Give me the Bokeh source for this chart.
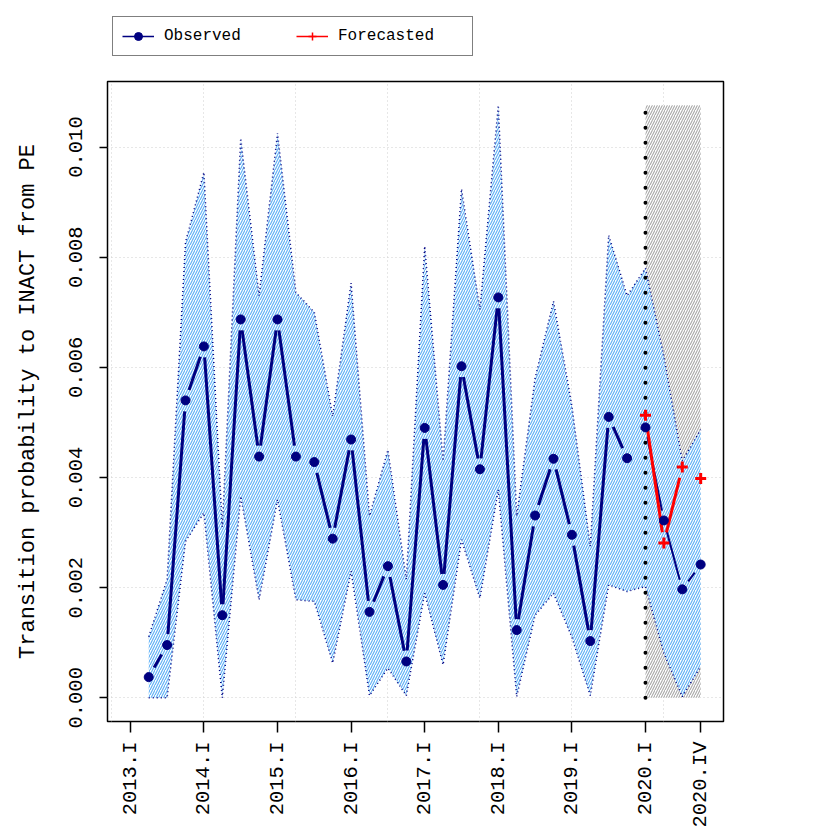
import math
from bokeh.plotting import figure
from bokeh.layouts import column
from bokeh.models import FixedTicker, Legend, LegendItem, Range1d
from bokeh.embed import file_html
from bokeh.resources import INLINE

# ---------------- data ----------------
quarters = [f"{y}.{q}" for y in range(2013, 2021) for q in ("I", "II", "III", "IV")]
obs_quarters = quarters[1:]  # 2013.II .. 2020.IV

observed = [0.000376, 0.000958, 0.00540, 0.00638, 0.00150, 0.00687, 0.00438, 0.00687,
            0.00438, 0.00428, 0.00289, 0.00469, 0.00156, 0.00239, 0.00066, 0.00490,
            0.00205, 0.00602, 0.00415, 0.00727, 0.00123, 0.00331, 0.00434, 0.00296,
            0.00103, 0.00510, 0.00435, 0.00491, 0.00322, 0.00197, 0.00242]
upper = [0.00111, 0.00215, 0.00827, 0.00954, 0.00310, 0.01016, 0.00730, 0.01025,
         0.00736, 0.00700, 0.00511, 0.00753, 0.00330, 0.00450, 0.00215, 0.00820,
         0.00430, 0.00924, 0.00705, 0.01076, 0.00330, 0.00580, 0.00720, 0.00530,
         0.00275, 0.00840, 0.00730, 0.00780, 0.00620, 0.00430, 0.00487]
lower = [0.0, 0.0, 0.00284, 0.00336, 0.0, 0.00366, 0.00178, 0.00360,
         0.00178, 0.00175, 0.00063, 0.00230, 0.00004, 0.00054, 0.00004, 0.00190,
         0.00060, 0.00287, 0.00181, 0.00378, 0.00002, 0.00150, 0.00190, 0.00110,
         0.00004, 0.00205, 0.00193, 0.00202, 0.00081, 0.00002, 0.00057]

fc_quarters = ["2020.I", "2020.II", "2020.III", "2020.IV"]
forecast = [0.00513, 0.00281, 0.00419, 0.00398]

tick_quarters = ["2013.I", "2014.I", "2015.I", "2016.I", "2017.I", "2018.I",
                 "2019.I", "2020.I", "2020.IV"]
y_ticks = [0.0, 0.002, 0.004, 0.006, 0.008, 0.010]
y_tick_labels = ["0.000", "0.002", "0.004", "0.006", "0.008", "0.010"]
split_quarter = "2020.I"

# ---------------- positions ----------------
obs_x = [quarters.index(q) for q in obs_quarters]
fc_x = [quarters.index(q) for q in fc_quarters]
split_x = quarters.index(split_quarter)
tick_x = [quarters.index(q) for q in tick_quarters]
n_hist = obs_quarters.index(split_quarter)  # points before forecast period

FONT = "Liberation Mono"
FW, FH = 616, 640
x0, x1 = -1.24, 32.24
y0, y1 = -0.00043, 0.01119
LEG_H = 60

p = figure(width=830, height=830 - LEG_H, output_backend="svg", toolbar_location=None,
           x_range=Range1d(x0, x1), y_range=Range1d(y0, y1),
           min_border_left=107, min_border_right=107, min_border_top=81 - LEG_H,
           min_border_bottom=109)
p.outline_line_color = "black"
p.outline_line_width = 1.5

# grid
p.xgrid.ticker = FixedTicker(ticks=[-1, 4, 9, 14, 19, 24, 29])
p.ygrid.ticker = FixedTicker(ticks=y_ticks)
for g in (p.xgrid, p.ygrid):
    g.grid_line_color = "#cfcfcf"
    g.grid_line_dash = "1 3"
    g.grid_line_width = 1

# axes
p.xaxis.ticker = FixedTicker(ticks=tick_x)
p.xaxis.major_label_overrides = {x: q for x, q in zip(tick_x, tick_quarters)}
p.xaxis.major_label_orientation = math.pi / 2
p.yaxis.ticker = FixedTicker(ticks=y_ticks)
p.yaxis.major_label_overrides = {v: s for v, s in zip(y_ticks, y_tick_labels)}
p.yaxis.major_label_orientation = "vertical"
p.yaxis.axis_label = "Transition probability to INACT from PE"
for ax in (p.xaxis, p.yaxis):
    ax.axis_line_color = None
    ax.minor_tick_line_color = None
    ax.major_tick_in = 0
    ax.major_tick_line_width = 1.5
    ax.major_tick_line_color = "black"
    ax.major_label_text_font = FONT
    ax.major_label_text_font_size = "20.5px"
    ax.major_label_text_color = "black"
    ax.axis_label_text_font = FONT
    ax.axis_label_text_font_size = "22px"
    ax.axis_label_text_font_style = "normal"
    ax.axis_label_text_color = "black"
p.xaxis.major_tick_out = 11
p.yaxis.major_tick_out = 8
p.xaxis.major_label_standoff = 9
p.yaxis.major_label_standoff = 17
p.yaxis.axis_label_standoff = 26

# forecast period shading
p.quad(left=[fc_x[0]], right=[fc_x[-1]], bottom=[0], top=[max(upper)],
       fill_color="white", line_color=None,
       hatch_pattern="/", hatch_color="#a8a8a8", hatch_scale=5, hatch_weight=1.1)

# confidence band
p.varea(x=obs_x, y1=lower, y2=upper, fill_color="white",
        hatch_pattern="/", hatch_color="#62b2f6", hatch_scale=5, hatch_weight=1.2)
p.line(obs_x, upper, line_color="navy", line_width=1.5, line_dash="1 3")
p.line(obs_x, lower, line_color="navy", line_width=1.5, line_dash="1 3")

# vertical dotted separator
p.segment(x0=[split_x], y0=[0], x1=[split_x], y1=[max(upper)], line_color="black",
          line_width=4, line_dash="0 15", line_cap="round")

# lines with gaps around points (R type="b")
xs_per_px = (x1 - x0) / FW
ys_per_px = (y1 - y0) / FH


def gapped(xv, yv, gap):
    a, b, c, d = [], [], [], []
    for i in range(len(xv) - 1):
        dxp = (xv[i + 1] - xv[i]) / xs_per_px
        dyp = (yv[i + 1] - yv[i]) / ys_per_px
        dist = math.hypot(dxp, dyp)
        if dist <= 2 * gap:
            continue
        f = gap / dist
        a.append(xv[i] + (xv[i + 1] - xv[i]) * f)
        b.append(yv[i] + (yv[i + 1] - yv[i]) * f)
        c.append(xv[i + 1] - (xv[i + 1] - xv[i]) * f)
        d.append(yv[i + 1] - (yv[i + 1] - yv[i]) * f)
    return dict(x0=a, y0=b, x1=c, y1=d)


s1 = gapped(obs_x[:n_hist], observed[:n_hist], 11)
p.segment(x0=s1["x0"], y0=s1["y0"], x1=s1["x1"], y1=s1["y1"], line_color="navy", line_width=3)
s2 = gapped(obs_x[n_hist:], observed[n_hist:], 10)
p.segment(x0=s2["x0"], y0=s2["y0"], x1=s2["x1"], y1=s2["y1"], line_color="navy", line_width=2)
s3 = gapped(fc_x, forecast, 11)
p.segment(x0=s3["x0"], y0=s3["y0"], x1=s3["x1"], y1=s3["y1"], line_color="red", line_width=3)

p.scatter(obs_x, observed, marker="circle", size=9, fill_color="navy", line_color="navy")
p.scatter(fc_x, forecast, marker="cross", size=11, line_color="red", line_width=3)

# legend strip above the plot (hidden proxy renderers carry the legend glyph styles)
lf = figure(width=830, height=LEG_H, output_backend="svg", toolbar_location=None,
            x_range=Range1d(0, 1), y_range=Range1d(0, 1),
            x_axis_location=None, y_axis_location=None,
            min_border_left=0, min_border_right=0, min_border_top=0, min_border_bottom=0)
lf.grid.visible = False
lf.outline_line_color = None
lg_obs_l = lf.line(obs_x[:2], observed[:2], line_color="navy", line_width=1.5, visible=False)
lg_obs_m = lf.scatter(obs_x[:1], observed[:1], marker="circle", size=9,
                      fill_color="navy", line_color="navy", visible=False)
lg_fc_l = lf.line(fc_x[:2], forecast[:2], line_color="red", line_width=1.5, visible=False)
lg_fc_m = lf.scatter(fc_x[:1], forecast[:1], marker="cross", size=14,
                     line_color="red", line_width=1.5, visible=False)
legend = Legend(items=[LegendItem(label="Observed", renderers=[lg_obs_l, lg_obs_m]),
                       LegendItem(label="Forecasted", renderers=[lg_fc_l, lg_fc_m])],
                orientation="horizontal", location=(5, 4),
                border_line_color="black", border_line_width=1.5,
                background_fill_alpha=1.0, background_fill_color="white",
                inactive_fill_alpha=0.0,
                label_text_font=FONT, label_text_font_size="16px", label_text_color="black",
                glyph_width=32, glyph_height=20, label_standoff=10, label_width=125,
                label_height=20, spacing=7, padding=9, margin=0)
lf.add_layout(legend, "center")

layout = column(lf, p, spacing=0)
open("out.html", "w").write(file_html(layout, INLINE))
